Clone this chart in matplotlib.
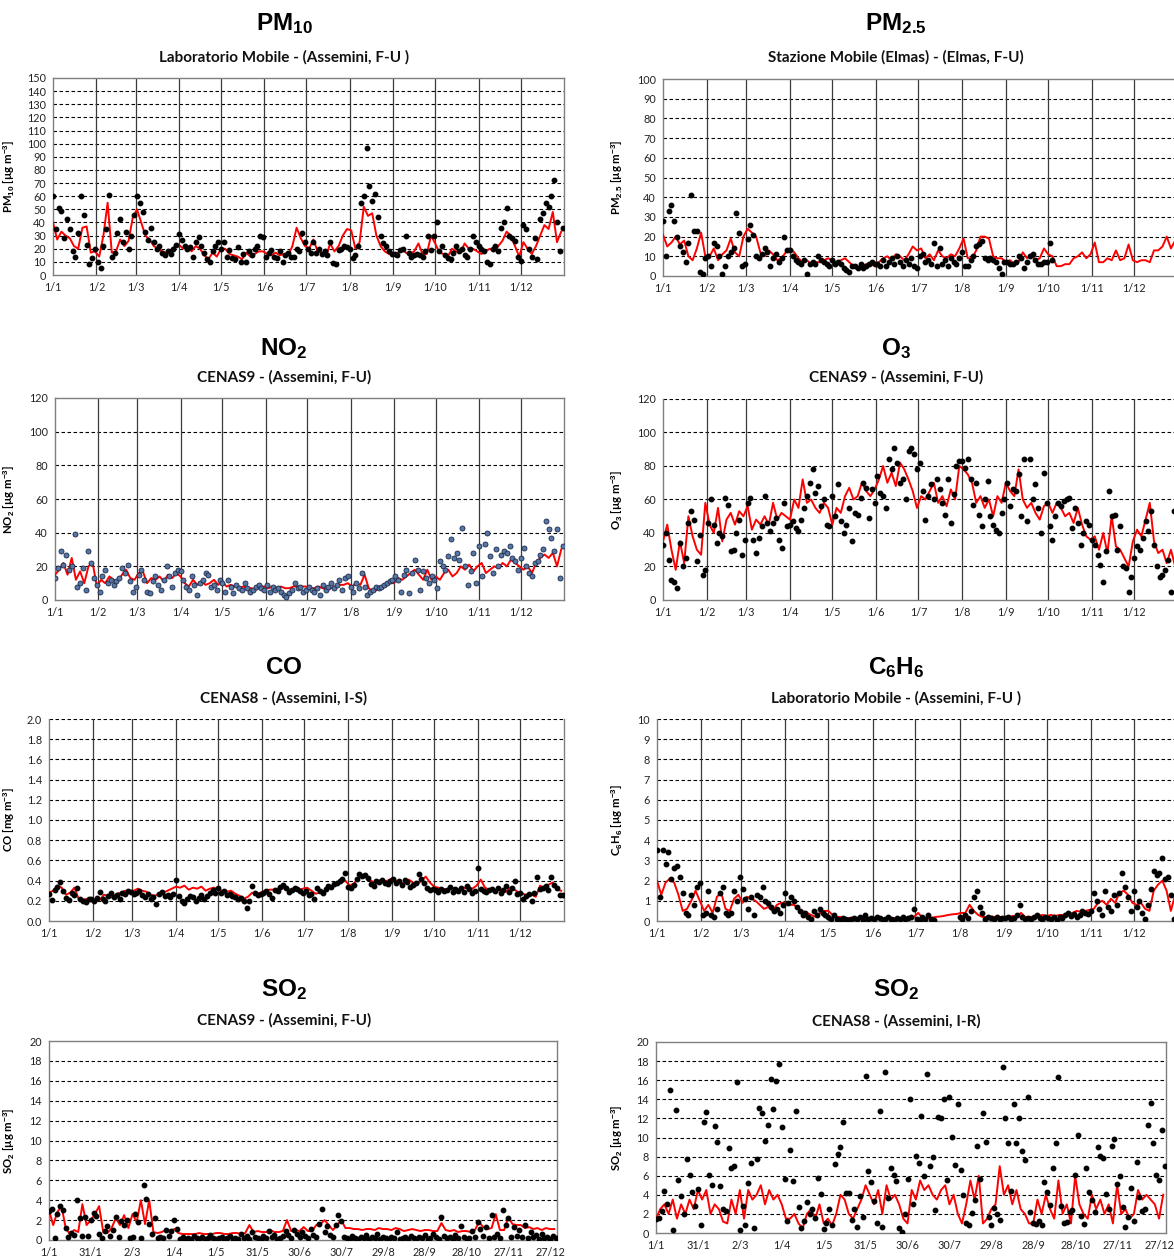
import numpy as np
import matplotlib
matplotlib.use('Agg')
import matplotlib.pyplot as plt

plt.rcParams['font.family'] = ['Lato', 'DejaVu Sans']
plt.rcParams['mathtext.fontset'] = 'custom'
plt.rcParams['mathtext.rm'] = 'Liberation Sans'
plt.rcParams['mathtext.bf'] = 'Liberation Sans:bold'
plt.rcParams['mathtext.it'] = 'Liberation Sans:italic'

# ---------------- DATA ----------------
month_days = [0, 31, 59, 90, 120, 151, 181, 212, 243, 273, 304, 334]
month_labels = ['1/1', '1/2', '1/3', '1/4', '1/5', '1/6', '1/7', '1/8', '1/9', '1/10', '1/11', '1/12']
so2_days = [0, 30, 60, 90, 120, 150, 180, 210, 240, 270, 300, 330, 360]
so2_labels = ['1/1', '31/1', '2/3', '1/4', '1/5', '31/5', '30/6', '30/7', '29/8', '28/9', '28/10', '27/11', '27/12']
nan = np.nan

pm10_line = [40, 27, 33, 30, 28, 22, 20, 36, 37, 17, 18,
             14, 30, 55, 17, 18, 27, 22, 26, 44,
             50, 40, 30, 27, 22, 20, 18, 17, 18, 22,
             23, 20, 22, 18, 22, 20, 15, 12, 17, 14,
             20, 20, 16, 15, 14, 12, 17, 14, 16, 18, 18,
             16, 15, 17, 15, 16, 15, 22, 36, 28, 22,
             20, 27, 18, 17, 14, 24, 18, 22, 30, 35,
             34, 20, 25, 52, 45, 47, 30, 22, 18, 16,
             17, 16, 20, 17, 16, 18, 24, 16, 16, 30,
             24, 17, 16, 14, 20, 18, 17, 24, 20, 20, 18,
             16, 18, 20, 18, 22, 26, 33, 30, 22, 14,
             25, 20, 16, 22, 30, 38, 35, 48, 25, 33]
pm10_dots = [60, 35, 51, 49, 28, 43, 35, 18, 14, 32, 60, 46, 23, 8, 13, 20,
             10, 5, 22, 35, 61, 14, 17, 32, 43, 25, 33, 20, 30, 46,
             60, 55, 48, 33, 27, 36, 25, 20, 22, 17, 15, 18, 16, 20, 23,
             31, 27, 22, 20, 21, 14, 25, 29, 22, 17, 12, 10, 18, 22, 25,
             20, 25, 14, 19, 13, 12, 21, 10, 16, 10, 18, 15, 20, 22, 30, 29,
             14, 17, 19, 14, 13, 18, 10, 15, 17, 14, 14, 20, 18, 32, 25,
             20, 17, 25, 17, 20, 16, 18, 15, 25, 9, 8, 19, 20, 22, 21,
             20, 13, 15, 22, 55, 60, 97, 68, 56, 62, 44, 30, 24, 22, 18, 16,
             16, 15, 19, 20, 30, 17, 14, 15, 16, 15, 14, 18, 30, 19, 30,
             40, 18, 22, 15, 13, 12, 17, 22, 18, 20, 15, 14, 20, 30, 25,
             22, 20, 18, 10, 8, 20, 22, 18, 36, 40, 51, 30, 28, 26, 14,
             11, 38, 35, 20, 14, 28, 12, 43, 47, 55, 52, 60, 72, 40, 18, 36]

pm25_line = [21, 15, 17, 20, 16, 18, 10, 8, 14, 22, 10,
             10, 14, 8, 11, 13, 19, 12, 10, 20,
             24, 22, 20, 12, 10, 13, 11, 8, 9, 12,
             14, 12, 9, 7, 8, 6, 7, 7, 8, 9,
             8, 7, 8, 9, 7, 5, 4, 5, 6, 5, 6,
             7, 9, 10, 8, 11, 10, 8, 11, 15, 13,
             14, 9, 11, 8, 13, 10, 9, 11, 10, 14,
             19, 9, 9, 13, 20, 20, 19, 10, 9, 9,
             7, 8, 6, 7, 12, 9, 11, 8, 9, 14,
             11, 10, 5, 5, 6, 6, 9, 10, 12, 9, 11,
             17, 7, 7, 9, 8, 13, 8, 9, 16, 8,
             7, 8, 8, 7, 13, 13, 15, 20, 14, 18]
pm25_dots = [28, 10, 33, 36, 28, 20, 15, 12, 7, 17, 41, 23, 23, 2, 1, 9,
             10, 5, 17, 15, 10, 1, 5, 10, 12, 14, 32, 22, 5, 6,
             19, 26, 21, 10, 9, 11, 14, 12, 5, 9, 11, 7, 9, 20, 13,
             13, 10, 8, 7, 6, 8, 1, 6, 7, 6, 10, 8, 7, 6, 5,
             8, 6, 7, 6, 4, 3, 2, 5, 5, 4, 6, 4, 5, 6, 7, 6,
             6, 5, 8, 5, 7, 9, 6, 10, 7, 5, 8, 6, 9, 5, 4,
             10, 11, 7, 8, 6, 17, 5, 14, 6, 8, 5, 9, 7, 6, 9,
             12, 5, 5, 8, 10, 15, 16, 18, 9, 8, 9, 8, 7, 4, 1, 7,
             7, 6, 6, 7, 10, 9, 4, 7, 10, 11, 8, 6, 6, 7, 7,
             17, 8, nan, nan, nan, nan, nan, nan, nan, nan, nan, nan, nan, nan, nan,
             nan, nan, nan, nan, nan, nan, nan, nan, nan, nan, nan, nan, nan, nan, nan,
             nan, nan, nan, nan, nan, nan, nan, nan, nan, nan, nan, nan, nan, nan, nan, nan]

no2_line = [15, 18, 22, 15, 25, 12, 17, 10, 20, 22, 8,
            12, 10, 14, 12, 11, 15, 18, 13, 12,
            16, 17, 10, 13, 12, 14, 11, 15, 13, 16,
            14, 10, 8, 12, 9, 11, 9, 10, 12, 9,
            11, 8, 9, 8, 7, 8, 7, 7, 6, 8, 8,
            7, 8, 7, 8, 7, 7, 8, 8, 8, 8,
            7, 7, 8, 7, 6, 7, 8, 9, 9, 10,
            8, 10, 9, 15, 7, 5, 6, 7, 8, 10,
            10, 13, 12, 14, 16, 18, 15, 12, 18, 12,
            14, 12, 16, 18, 14, 16, 20, 18, 21, 17, 20,
            22, 16, 18, 20, 19, 22, 20, 24, 22, 20,
            18, 20, 16, 22, 25, 27, 25, 28, 20, 30]
no2_dots = [13, 19, 29, 21, 27, 18, 20, 39, 8, 10, 19, 6, 29, 22, 13, 9,
            5, 14, 18, 10, 12, 9, 11, 13, 19, 16, 21, 11, 5, 8,
            15, 18, 12, 5, 4, 11, 14, 9, 6, 12, 20, 14, 8, 16, 18,
            17, 12, 8, 6, 14, 9, 3, 10, 12, 16, 15, 8, 9, 6, 12,
            10, 5, 12, 8, 4, 9, 7, 6, 10, 7, 5, 6, 8, 9, 7, 6,
            9, 5, 8, 6, 7, 5, 3, 2, 4, 6, 10, 7, 8, 5, 6,
            8, 6, 5, 7, 3, 9, 6, 8, 10, 7, 9, 12, 6, 13, 14,
            8, 5, 10, 7, 16, 8, 3, 5, 6, 8, 7, 8, 9, 10, 11, 12,
            14, 12, 5, 15, 18, 4, 16, 24, 18, 6, 17, 13, 10, 14, 12,
            7, 23, 20, 18, 26, 36, 25, 28, 24, 43, 20, 9, 17, 28, 10,
            32, 14, 33, 40, 26, 16, 30, 20, 27, 29, 28, 32, 25, 23, 18,
            25, 31, 20, 16, 14, 22, 23, 27, 30, 47, 42, 37, 29, 42, 13, 32]

o3_line = [35, 45, 30, 18, 35, 22, 50, 38, 30, 27, 58,
           45, 40, 55, 35, 48, 52, 45, 53, 50,
           56, 42, 48, 45, 50, 45, 58, 48, 52, 50,
           48, 60, 55, 72, 58, 60, 55, 52, 58, 55,
           45, 55, 52, 62, 67, 60, 62, 70, 65, 62, 66,
           72, 80, 70, 76, 68, 82, 78, 72, 65, 55,
           62, 60, 65, 70, 58, 62, 56, 66, 60, 80,
           78, 75, 70, 58, 62, 55, 60, 50, 62, 58,
           70, 65, 62, 78, 60, 55, 58, 52, 48, 56,
           58, 52, 58, 55, 50, 52, 46, 55, 45, 38, 36,
           38, 30, 40, 28, 50, 32, 30, 25, 20, 35,
           42, 38, 48, 58, 35, 28, 30, 22, 30, 20]
o3_dots = [33, 40, 24, 12, 11, 7, 34, 20, 25, 46, 53, 48, 23, 39, 15, 18,
           46, 60, 45, 34, 40, 38, 61, 57, 29, 30, 40, 48, 27, 36,
           58, 61, 36, 28, 37, 44, 62, 46, 41, 46, 49, 36, 31, 58, 44,
           45, 47, 43, 41, 48, 55, 62, 70, 78, 64, 68, 56, 60, 45, 44,
           62, 50, 69, 47, 40, 45, 55, 35, 52, 51, 61, 70, 67, 49, 66, 58,
           74, 64, 62, 55, 84, 78, 91, 82, 70, 72, 60, 89, 91, 87, 78,
           82, 65, 48, 62, 69, 60, 72, 66, 58, 51, 72, 46, 63, 80, 83,
           83, 79, 84, 72, 57, 70, 51, 44, 60, 71, 50, 45, 42, 40, 52, 60,
           70, 56, 66, 65, 75, 50, 84, 47, 84, 60, 69, 55, 40, 76, 58,
           44, 36, 50, 58, 56, 59, 60, 61, 43, 55, 46, 33, 40, 47, 45,
           36, 33, 27, 21, 11, 29, 65, 50, 51, 30, 44, 20, 19, 5, 14,
           25, 32, 30, 37, 47, 41, 53, 33, 20, 14, 15, 18, 24, 5, 53, 10]

co_line = [.28, .30, .35, .33, .26, .28, .33, .22, .21, .22, .21,
           .20, .21, .26, .25, .23, .27, .28, .30, .29,
           .30, .32, .30, .29, .26, .25, .27, .28, .30, .32,
           .34, .33, .35, .31, .33, .32, .34, .30, .32, .33,
           .31, .30, .29, .30, .27, .25, .22, .24, .28, .27, .28,
           .30, .31, .31, .32, .32, .33, .31, .32, .31, .32,
           .33, .30, .27, .28, .30, .33, .34, .36, .38, .40,
           .35, .37, .42, .45, .44, .40, .38, .40, .39, .40,
           .42, .40, .38, .37, .41, .38, .36, .40, .44, .38,
           .34, .33, .32, .31, .33, .32, .31, .33, .32, .32, .35,
           .41, .33, .31, .30, .31, .30, .29, .33, .31, .28,
           .27, .25, .26, .24, .35, .33, .36, .38, .31, .30]
co_dots = [.27, .21, .31, .34, .39, .30, .23, .21, .28, .26, .33, .22, .20, .19, .22, .22,
           .20, .23, .29, .22, .20, .25, .28, .24, .26, .22, .28, .27, .30, .29,
           .27, .28, .30, .26, .24, .27, .22, .24, .17, .27, .29, .25, .26, .24, .27,
           .41, .25, .20, .18, .22, .25, .24, .20, .23, .26, .22, .25, .28, .31, .28,
           .33, .28, .30, .26, .27, .25, .24, .22, .23, .20, .13, .20, .35, .28, .26, .27,
           .28, .30, .27, .23, .31, .30, .34, .36, .33, .29, .31, .33, .32, .30, .28,
           .30, .26, .27, .22, .33, .30, .28, .32, .35, .34, .37, .38, .40, .42, .48,
           .34, .33, .36, .42, .47, .45, .46, .43, .37, .35, .40, .39, .41, .38, .37, .40,
           .42, .38, .40, .36, .41, .39, .34, .36, .38, .47, .42, .38, .33, .31, .32,
           .31, .29, .32, .30, .31, .34, .29, .32, .30, .33, .29, .35, .32, .28, .30,
           .52, .32, .30, .29, .31, .32, .30, .33, .28, .31, .35, .29, .33, .40, .27,
           .28, .22, .25, .27, .20, .28, .44, .32, .33, .35, .31, .44, .36, .33, .26, .26]

c6h6_line = [2.0, 1.3, 1.9, 2.1, 1.9, 1.3, 0.5, 0.6, 1.0, 1.5, 1.0,
             0.5, 0.8, 0.4, 1.2, 1.4, 0.6, 0.5, 1.1, 1.3,
             0.9, 1.2, 1.1, 1.0, 0.8, 0.6, 0.7, 0.5, 0.8, 0.9,
             0.9, 0.8, 0.8, 0.6, 0.5, 0.4, 0.3, 0.2, 0.4, 0.5,
             0.5, 0.3, 0.2, 0.2, 0.15, 0.15, 0.12, 0.12, 0.15, 0.13, 0.13,
             0.12, 0.15, 0.12, 0.15, 0.15, 0.12, 0.15, 0.15, 0.16, 0.2,
             0.4, 0.15, 0.13, 0.15, 0.2, 0.22, 0.25, 0.3, 0.33, 0.35,
             0.4, 0.4, 0.8, 0.5, 0.3, 0.2, 0.2, 0.22, 0.2, 0.2,
             0.2, 0.2, 0.25, 0.22, 0.4, 0.2, 0.2, 0.22, 0.25, 0.3,
             0.25, 0.3, 0.25, 0.3, 0.3, 0.35, 0.4, 0.5, 0.45, 0.5, 0.55,
             0.6, 0.9, 1.0, 0.8, 1.1, 0.9, 1.4, 1.5, 1.3, 0.9,
             0.8, 0.9, 0.6, 0.5, 1.5, 1.8, 2.0, 1.5, 0.5, 1.3]
c6h6_dots = [3.5, 1.2, 3.5, 2.8, 3.4, 2.1, 2.6, 2.7, 2.2, 1.4, 0.4, 0.3, 1.3, 0.8, 1.7, 1.9,
             0.3, 0.4, 1.5, 0.3, 0.2, 0.6, 1.4, 1.7, 0.4, 0.3, 0.4, 1.5, 1.0, 2.2,
             1.6, 1.1, 0.6, 1.2, 0.3, 1.3, 1.2, 1.7, 1.0, 0.9, 0.7, 0.5, 0.6, 0.4, 0.8,
             1.4, 0.9, 1.2, 1.0, 0.7, 0.5, 0.3, 0.4, 0.2, 0.1, 0.5, 0.3, 0.6, 0.4, 0.3,
             0.2, 0.1, 0.3, 0.1, 0.05, 0.15, 0.1, 0.05, 0.1, 0.15, 0.1, 0.2, 0.05, 0.3, 0.1, 0.15,
             0.1, 0.2, 0.15, 0.05, 0.1, 0.2, 0.1, 0.05, 0.15, 0.1, 0.2, 0.1, 0.15, 0.2, 0.6,
             0.1, 0.05, 0.2, 0.1, 0.3, 0.1, 0.05, nan, nan, nan, nan, nan, nan, nan, nan,
             0.2, 0.1, 0.3, 0.15, 0.5, 1.2, 1.5, 0.7, 0.4, 0.1, 0.2, 0.15, 0.1, 0.2, 0.1, 0.15,
             0.15, 0.2, 0.1, 0.15, 0.3, 0.8, 0.2, 0.1, 0.15, 0.1, 0.2, 0.3, 0.15, 0.1, 0.2,
             0.15, 0.1, 0.2, 0.05, 0.2, 0.15, 0.3, 0.4, 0.25, 0.35, 0.2, 0.3, 0.5, 0.4, 0.35,
             0.5, 1.4, 1.0, 0.6, 0.3, 1.5, 0.7, 0.5, 1.3, 0.8, 1.4, 2.4, 1.7, 1.2, 0.5,
             1.5, 0.7, 1.0, 0.4, 0.1, 0.8, 1.6, 2.5, 2.3, 2.4, 3.1, 2.1, 2.2, 1.3, 0.1, 1.5]

so2a_line = [3.0, 1.5, 2.8, 3.4, 1.2, 0.6, 1.0, 0.8, 3.6, 1.5, 2.0,
             2.6, 3.4, 0.8, 0.7, 1.2, 2.2, 1.5, 2.5, 1.2,
             2.6, 1.8, 4.0, 1.6, 4.0, 0.8, 0.7, 0.8, 1.0, 0.9,
             1.1, 0.7, 0.6, 0.6, 0.6, 0.6, 0.7, 0.6, 0.6, 0.6,
             0.7, 0.7, 0.6, 0.6, 0.7, 0.7, 0.6, 0.7, 1.5, 0.8, 0.9,
             0.8, 0.8, 1.0, 0.8, 0.8, 0.9, 2.0, 0.9, 1.0, 0.9,
             1.3, 0.9, 0.9, 1.5, 1.6, 2.0, 1.5, 1.0, 1.5, 2.0,
             1.2, 1.2, 1.1, 1.1, 1.0, 1.1, 1.1, 1.0, 1.2, 1.1,
             1.1, 1.0, 1.2, 1.1, 0.9, 1.0, 1.1, 1.0, 0.9, 1.0,
             1.0, 0.9, 0.9, 1.7, 1.0, 0.9, 1.0, 0.8, 0.9, 0.9, 0.8,
             1.0, 1.8, 1.3, 1.1, 1.2, 2.6, 1.0, 1.0, 2.3, 1.6,
             1.5, 1.5, 1.2, 1.3, 1.1, 1.2, 1.0, 1.2, 1.1, 1.1]
so2a_dots = [2.9, 3.1, 0.2, 2.6, 3.4, 3.0, 1.2, 0.3, 0.7, 0.5, 4.0, 2.2, 0.4, 2.3, 0.4, 2.0,
             2.7, 2.4, 0.6, 0.2, 0.9, 1.4, 0.4, 1.0, 2.3, 0.3, 1.9, 1.5, 2.0, 0.2,
             0.3, 2.6, 1.8, 0.2, 5.5, 4.1, 1.6, 0.6, 2.2, 0.2, 0.3, 0.2, 1.0, 0.4, 0.9,
             2.0, 1.1, 0.1, 0.3, 0.1, 0.2, 0.1, 0.4, 0.2, 0.1, 0.3, 0.1, 0.2, 0.5, 0.2,
             0.1, 0.2, 0.3, 0.1, 0.2, 0.4, 0.1, 0.2, 0.1, 0.6, 0.2, 0.4, 0.1, 0.8, 0.3, 0.2,
             0.1, 0.4, 0.2, 0.9, 0.3, 0.5, 0.1, 0.2, 0.4, 0.9, 0.5, 0.2, 1.0, 0.6, 0.3,
             0.8, 0.4, 0.2, 1.1, 0.5, 0.3, 1.6, 3.1, 0.8, 1.4, 0.5, 0.3, 1.5, 2.5, 1.9,
             0.3, 0.2, 0.1, 0.4, 0.2, 0.1, 0.3, 0.2, 0.5, 0.1, 0.3, 0.2, 0.6, 0.1, 0.3, 0.2,
             0.1, 0.3, 0.2, 0.8, 0.1, 0.2, 0.3, 0.1, 0.4, 0.2, 0.1, 0.3, 0.2, 0.5, 0.1,
             0.2, 0.6, 0.3, 0.1, 2.3, 0.4, 0.2, 0.3, 0.1, 0.5, 0.2, 1.4, 0.3, 0.1, 0.2,
             0.9, 0.3, 1.8, 1.1, 0.4, 1.3, 0.2, 2.5, 0.3, 0.6, 0.2, 3.0, 1.5, 2.2, 0.3,
             1.3, 0.4, 1.0, 0.3, 1.5, 0.2, 0.8, 0.3, 0.5, 0.1, 0.6, 0.2, 0.3, 0.1, 0.4, 0.2]

so2b_line = [1.5, 2.5, 3.0, 2.0, 3.5, 1.5, 3.0, 2.0, 3.5, 2.5, 4.5,
             3.5, 4.5, 2.0, 3.0, 2.5, 1.2, 1.0, 3.5, 2.0,
             4.5, 1.5, 4.5, 3.5, 4.0, 5.0, 3.0, 4.5, 3.5, 4.0,
             3.0, 1.5, 1.5, 2.0, 1.0, 0.5, 2.0, 2.5, 1.5, 3.0,
             1.0, 1.5, 0.8, 2.0, 4.0, 3.5, 2.0, 1.5, 2.5, 3.5, 5.0,
             4.0, 3.0, 4.5, 2.0, 5.0, 3.5, 4.0, 3.0, 1.5, 1.0,
             4.5, 3.5, 5.5, 4.5, 5.0, 4.0, 3.5, 4.5, 5.0, 3.0,
             4.0, 2.0, 1.0, 3.0, 5.5, 3.5, 6.0, 1.0, 1.5, 2.5,
             3.0, 7.0, 4.0, 5.0, 3.0, 4.5, 2.5, 2.0, 1.0, 1.0,
             3.5, 2.0, 4.0, 2.5, 1.5, 5.5, 2.0, 3.0, 1.0, 6.0, 3.0,
             2.0, 1.5, 4.0, 2.5, 3.5, 2.0, 3.0, 1.0, 5.0, 2.0,
             2.5, 1.5, 2.0, 4.5, 3.5, 4.0, 3.5, 3.0, 1.5, 4.0]
so2b_dots = [1.5, 1.6, 2.3, 4.4, 3.0, 15.0, 0.3, 12.9, 5.6, 3.9, 2.0, 7.8, 6.1, 4.3, 2.8, 4.6,
             0.8, 11.6, 12.7, 6.1, 5.0, 11.2, 9.5, 4.9, 2.5, 2.3, 8.9, 6.8, 7.0, 15.8,
             0.3, 2.8, 0.8, 5.2, 7.3, 0.5, 7.8, 13.1, 12.6, 9.6, 11.3, 16.1, 13.0, 15.9, 17.7,
             11.1, 5.7, 1.3, 8.7, 5.4, 12.8, 2.7, 0.5, 1.3, 3.2, 2.0, 2.5, 1.6, 5.8, 4.1,
             0.4, 1.0, 2.5, 0.8, 7.2, 8.3, 9.0, 11.6, 4.2, 4.2, 1.4, 2.5, 0.6, 3.9, 1.7, 16.4,
             6.5, 5.3, 3.4, 1.0, 12.8, 0.6, 16.9, 3.7, 6.8, 6.1, 5.4, 0.5, 0.1, 2.0, 5.7,
             14.0, 3.0, 8.1, 7.3, 12.3, 6.0, 16.6, 7.0, 8.0, 2.4, 12.1, 12.0, 14.0, 5.5, 14.2,
             10.1, 7.1, 13.5, 6.6, 4.0, 1.0, 0.8, 2.1, 3.5, 9.1, 5.7, 12.6, 9.5, 1.7, 0.8, 2.6,
             2.0, 1.4, 17.4, 12.0, 9.4, 4.4, 13.5, 9.4, 12.0, 8.6, 7.6, 14.2, 2.2, 1.0, 0.9,
             1.3, 0.8, 5.3, 4.3, 2.9, 6.8, 9.4, 16.3, 2.8, 1.0, 1.2, 2.2, 2.4, 6.1, 10.3,
             1.8, 0.9, 6.8, 4.3, 3.5, 2.2, 9.0, 8.1, 7.9, 4.1, 2.5, 9.1, 9.8, 5.1, 6.0,
             2.7, 0.6, 1.7, 4.7, 1.3, 7.4, 3.8, 2.3, 2.5, 11.3, 13.6, 9.4, 6.1, 5.6, 10.8, 7.0]

W, H = 1174, 1259
fig = plt.figure(figsize=(W / 100, H / 100), dpi=100)
fig.patch.set_facecolor('white')


def panel(box, ymax, ystep, yfmt, line, dots, title, subtitle, ylabel,
          tcx, ty, sty, ylab_x, xmode='month', top_dashed=False, no2=False):
    l, t, r, b = box
    ax = fig.add_axes([l / W, 1 - b / H, (r - l) / W, (b - t) / H])
    ax.set_xlim(0, 365)
    ax.set_ylim(0, ymax)
    yt = np.arange(0, ymax + ystep / 2, ystep)
    ax.set_yticks(yt)
    ax.set_yticklabels([yfmt.format(v) for v in yt])
    for v in yt[1:]:
        if v < ymax - 1e-9 or top_dashed:
            ax.axhline(v, color='black', lw=0.8, ls=(0, (3.2, 2.2)), zorder=1)
    if xmode == 'month':
        ax.set_xticks(month_days)
        ax.set_xticklabels(month_labels)
        for d in month_days[1:]:
            ax.axvline(d, color='#3a3a3a', lw=0.9, zorder=1)
    else:
        ax.set_xticks(so2_days)
        ax.set_xticklabels(so2_labels)
    for s in ['left', 'right', 'bottom', 'top']:
        ax.spines[s].set_color('#7f7f7f')
        ax.spines[s].set_linewidth(1.0)
    if top_dashed:
        ax.spines['top'].set_visible(False)
    ax.tick_params(length=0, labelsize=7.8, pad=5, colors='#222222')
    xl = np.linspace(0, 363, len(line))
    xd = np.linspace(0, 364, len(dots))
    ax.plot(xl, line, color='#ff0000', lw=1.4, zorder=3)
    if no2:
        ax.plot(xd, dots, 'o', ms=3.6, mfc='#5677a6', mec='#1c2a48', mew=0.6, zorder=4, ls='none')
    else:
        ax.plot(xd, dots, 'o', ms=3.2, color='black', zorder=4, ls='none')
    ax.set_ylabel(ylabel, fontsize=8.2, fontweight='bold')
    ax.yaxis.set_label_coords((ylab_x - l) / (r - l), 0.5)
    fig.text(tcx / W, 1 - ty / H, title, fontsize=17.5, ha='center', va='center')
    fig.text(tcx / W, 1 - sty / H, subtitle, fontsize=11, fontweight='bold',
             ha='center', va='center', color='#111111')
    return ax


LC, RC = 284, 896
panel((53, 78, 564, 275), 150, 10, '{:.0f}', pm10_line, pm10_dots,
      r'$\mathbf{PM_{10}}$', 'Laboratorio Mobile - (Assemini, F-U )',
      r'PM$_{\mathbf{10}}$ [µg m$^{\mathbf{-3}}$]', LC, 24, 57, 17)
panel((663, 79, 1178, 276), 100, 10, '{:.0f}', pm25_line, pm25_dots,
      r'$\mathbf{PM_{2.5}}$', 'Stazione Mobile (Elmas) - (Elmas, F-U)',
      r'PM$_{\mathbf{2.5}}$ [µg m$^{\mathbf{-3}}$]', RC, 24, 57, 625)
panel((55, 398, 564, 600), 120, 20, '{:.0f}', no2_line, no2_dots,
      r'$\mathbf{NO_{2}}$', 'CENAS9 - (Assemini, F-U)',
      r'NO$_{\mathbf{2}}$ [µg m$^{\mathbf{-3}}$]', LC, 349, 377, 17, no2=True)
panel((663, 399, 1178, 600), 120, 20, '{:.0f}', o3_line, o3_dots,
      r'$\mathbf{O_{3}}$', 'CENAS9 - (Assemini, F-U)',
      r'O$_{\mathbf{3}}$ [µg m$^{\mathbf{-3}}$]', RC, 349, 377, 625, top_dashed=True)
panel((49, 719, 564, 921), 2.0, 0.2, '{:.1f}', co_line, co_dots,
      r'$\mathbf{CO}$', 'CENAS8 - (Assemini, I-S)',
      r'CO [mg m$^{\mathbf{-3}}$]', LC, 668, 698, 17, top_dashed=True)
panel((657, 719, 1178, 921), 10, 1, '{:.0f}', c6h6_line, c6h6_dots,
      r'$\mathbf{C_{6}H_{6}}$', 'Laboratorio Mobile - (Assemini, F-U )',
      r'C$_{\mathbf{6}}$H$_{\mathbf{6}}$ [µg m$^{\mathbf{-3}}$]', RC, 668, 698, 625, top_dashed=True)
panel((49, 1041, 557, 1240), 20, 2, '{:.0f}', so2a_line, so2a_dots,
      r'$\mathbf{SO_{2}}$', 'CENAS9 - (Assemini, F-U)',
      r'SO$_{\mathbf{2}}$ [µg m$^{\mathbf{-3}}$]', LC, 990, 1020, 17, xmode='so2')
panel((656, 1042, 1166, 1233), 20, 2, '{:.0f}', so2b_line, so2b_dots,
      r'$\mathbf{SO_{2}}$', 'CENAS8 - (Assemini, I-R)',
      r'SO$_{\mathbf{2}}$ [µg m$^{\mathbf{-3}}$]', RC, 990, 1021, 625, xmode='so2')

fig.savefig('out.png', dpi=100, facecolor='white')
